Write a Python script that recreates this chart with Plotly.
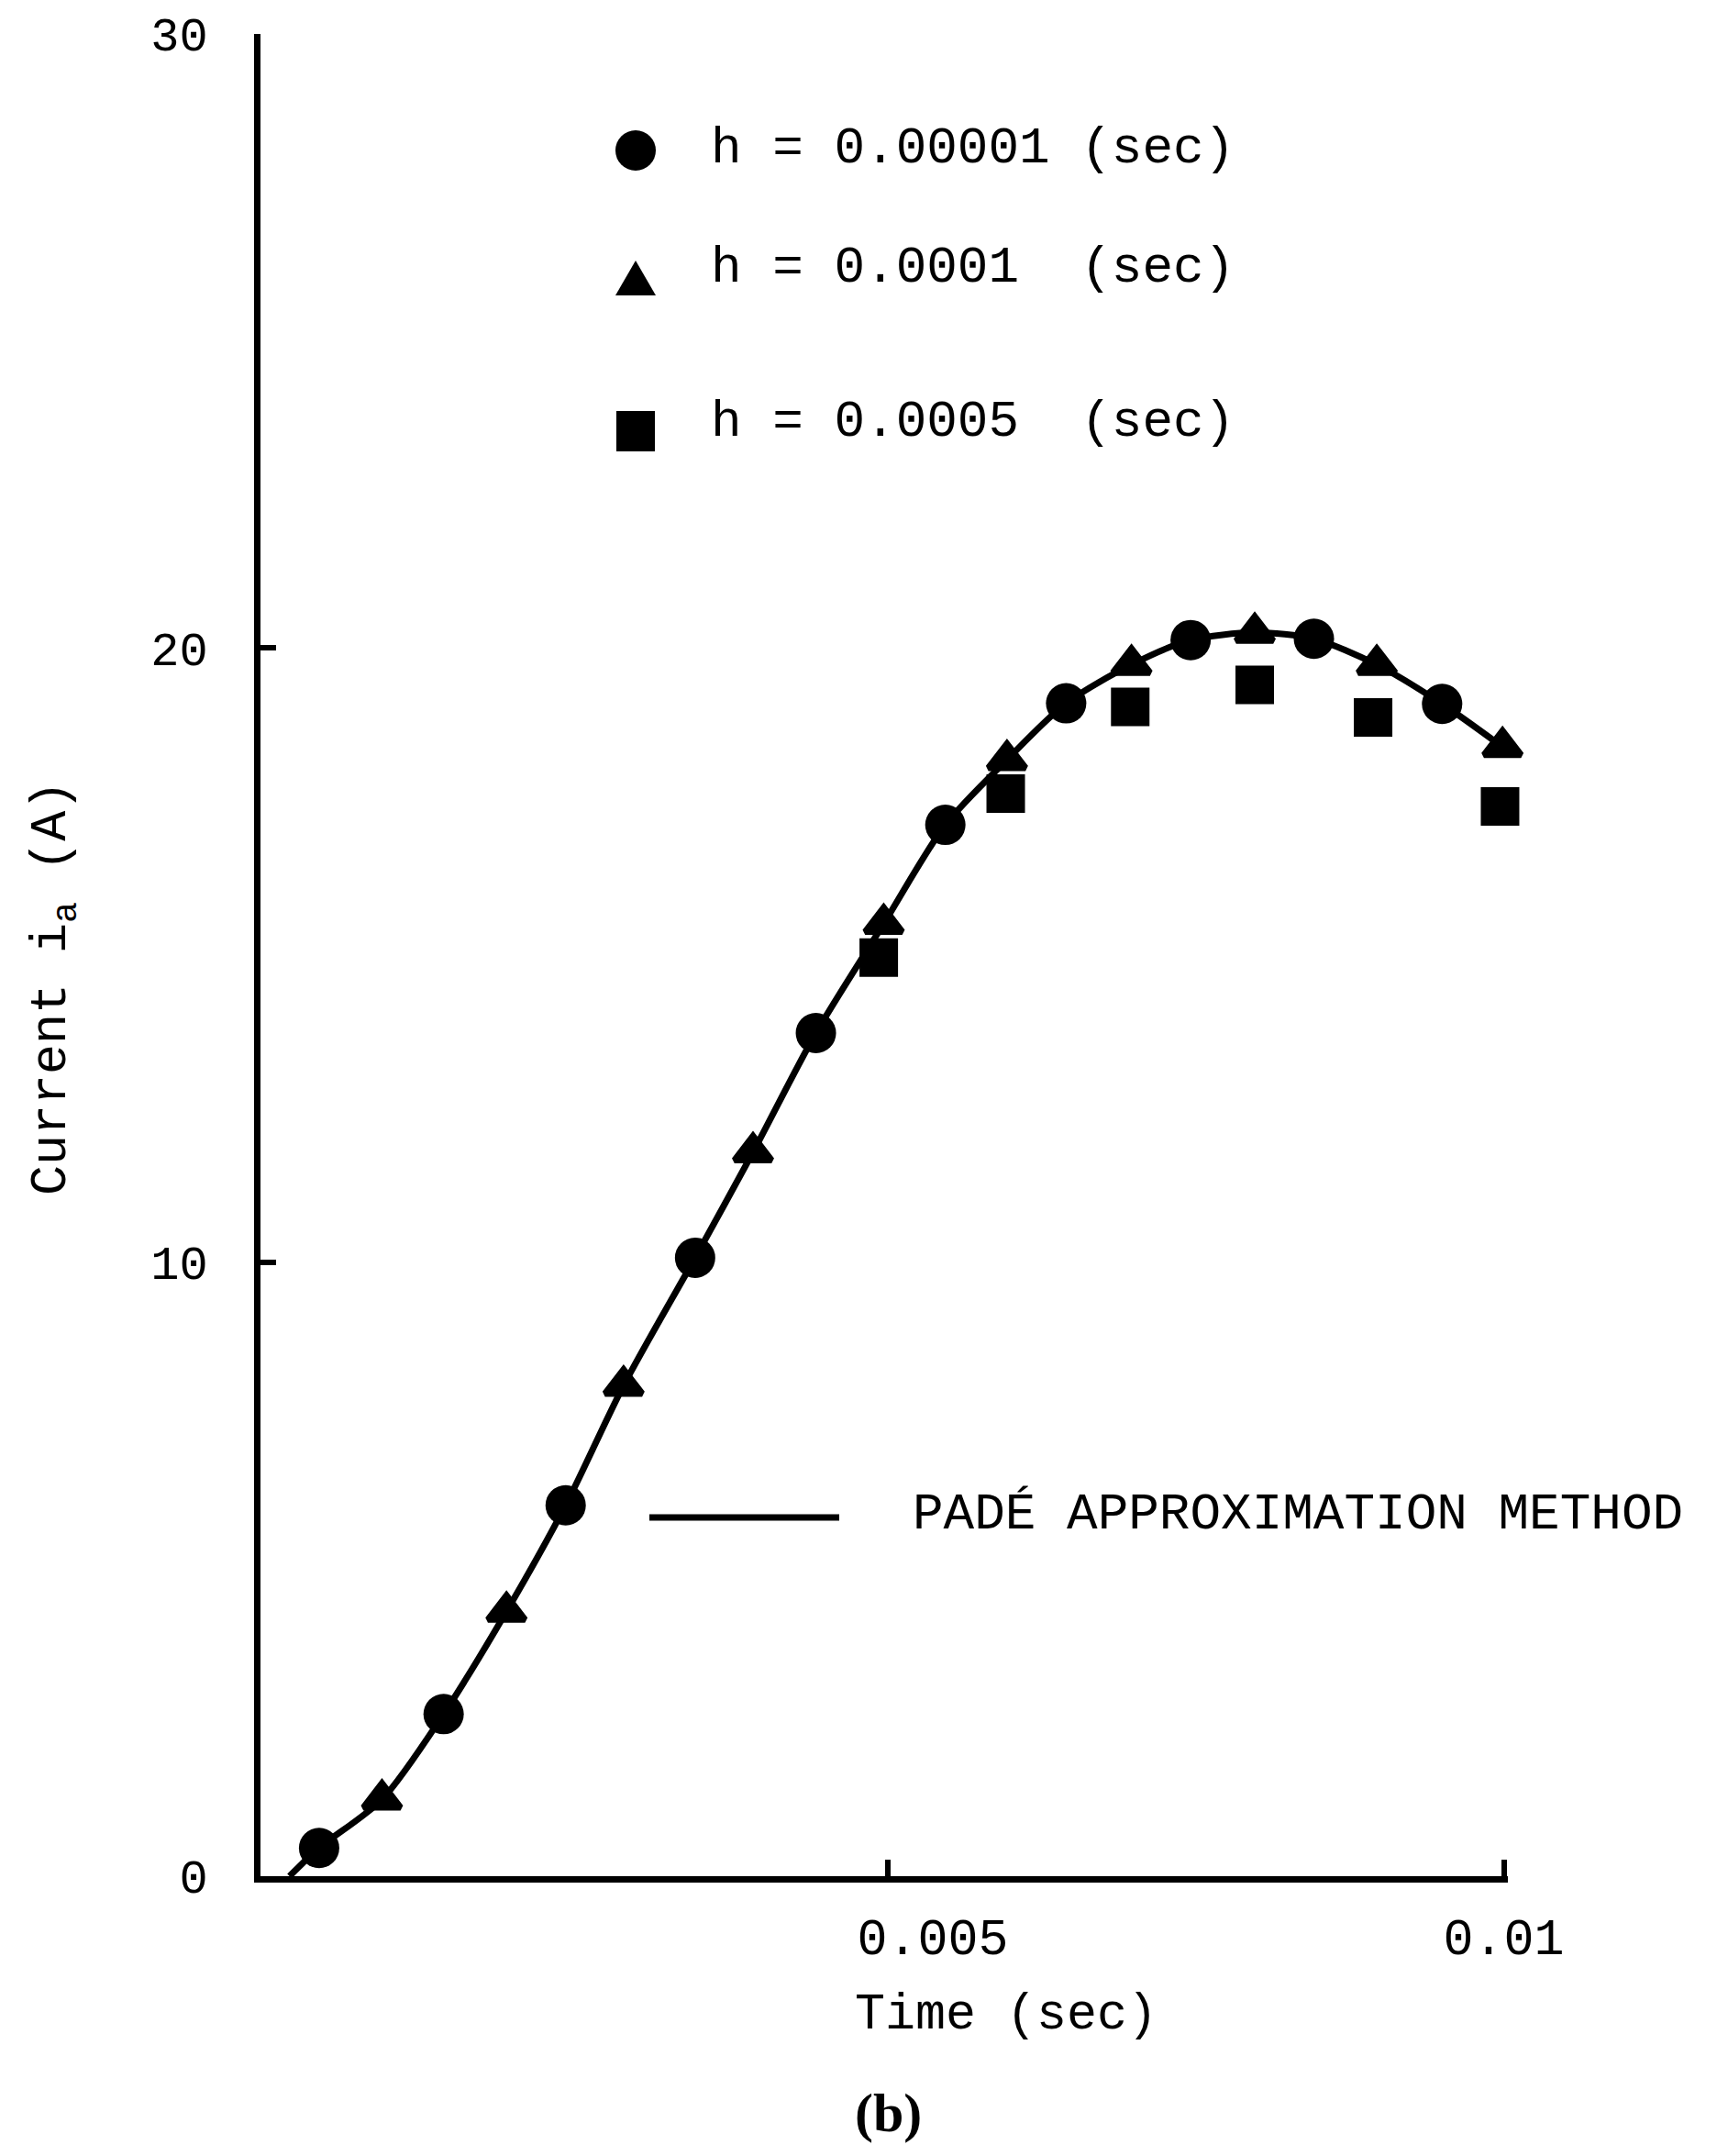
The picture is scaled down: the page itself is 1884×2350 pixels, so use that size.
import plotly.graph_objects as go

# ---------------- data ----------------
# h = 0.00001 s  (circles)
t_h1 = [0.00039, 0.00140, 0.00239, 0.00344, 0.00442, 0.00547, 0.00645, 0.00746, 0.00846, 0.00950]
i_h1 = [0.46, 2.64, 6.04, 10.07, 13.73, 17.12, 19.10, 20.13, 20.15, 19.09]

# h = 0.0001 s  (triangles)
t_h2 = [0.00090, 0.00191, 0.00286, 0.00391, 0.00497, 0.00597, 0.00698, 0.00798, 0.00897, 0.00999]
i_h2 = [1.25, 4.31, 7.99, 11.79, 15.51, 18.18, 19.73, 20.25, 19.73, 18.39]

# h = 0.0005 s  (squares)
t_h3 = [0.00493, 0.00596, 0.00697, 0.00798, 0.00894, 0.00997]
i_h3 = [14.96, 17.63, 19.04, 19.40, 18.87, 17.42]

# Pade approximation method (solid curve)
t_pade = [0.00015, 0.00039, 0.00090, 0.00140, 0.00191, 0.00239, 0.00286, 0.00344, 0.00391, 0.00442,
          0.00497, 0.00547, 0.00597, 0.00645, 0.00698, 0.00746, 0.00798, 0.00846, 0.00897, 0.00950, 0.00999]
i_pade = [0.0, 0.46, 1.25, 2.64, 4.31, 6.04, 7.99, 10.07, 11.79, 13.73,
          15.51, 17.12, 18.18, 19.10, 19.73, 20.13, 20.25, 20.15, 19.73, 19.09, 18.39]

x_tick_vals = [0.005, 0.01]
x_tick_text = ["0.005", "0.01"]
y_tick_vals = [0, 10, 20, 30]
y_tick_text = ["0", "10", "20", "30"]

series_labels = ["h = 0.00001 (sec)", "h = 0.0001  (sec)", "h = 0.0005  (sec)"]
pade_label = "PADÉ APPROXIMATION METHOD"
x_title = "Time (sec)"
y_title = "Current i<sub>a</sub> (A)"
panel_label = "(b)"

# ---------------- layout geometry (pixels) ----------------
W, H = 1884, 2350
L, R, T, B = 284, 1644, 37, 2045
PW, PH = R - L, B - T
MONO = "Liberation Mono, Courier New, monospace"
BLACK = "black"


def fx(px):
    return (px - L) / PW


def fy(py):
    return (B - py) / PH


x_range = [0.005 - (967.5 - L) / 134400.0, 0.01 + (R - 1639.5) / 134400.0]

fig = go.Figure()

fig.add_trace(go.Scatter(
    x=t_pade, y=i_pade, mode="lines", name=pade_label,
    line=dict(color=BLACK, width=7, shape="spline", smoothing=0.8),
    showlegend=False, cliponaxis=False))

fig.add_trace(go.Scatter(
    x=t_h1, y=i_h1, mode="markers", name=series_labels[0],
    marker=dict(symbol="circle", size=44, color=BLACK, line=dict(width=0)),
    showlegend=False, cliponaxis=False))

fig.add_trace(go.Scatter(
    x=t_h2, y=i_h2, mode="markers", name=series_labels[1],
    marker=dict(symbol="triangle-up", size=35, color=BLACK, line=dict(width=7, color=BLACK)),
    showlegend=False, cliponaxis=False))

fig.add_trace(go.Scatter(
    x=t_h3, y=i_h3, mode="markers", name=series_labels[2],
    marker=dict(symbol="square", size=42, color=BLACK, line=dict(width=0)),
    showlegend=False, cliponaxis=False))

# ---------------- legend keys (drawn as shapes) ----------------
shapes = []
shapes.append(dict(type="circle", xref="paper", yref="paper",
                   x0=fx(671), x1=fx(715), y0=fy(186), y1=fy(142),
                   fillcolor=BLACK, line=dict(width=0)))
tri = [(671, 322), (715, 322), (693, 284)]
path = "M {} {} L {} {} L {} {} Z".format(fx(tri[0][0]), fy(tri[0][1]), fx(tri[1][0]), fy(tri[1][1]),
                                          fx(tri[2][0]), fy(tri[2][1]))
shapes.append(dict(type="path", xref="paper", yref="paper", path=path,
                   fillcolor=BLACK, line=dict(width=0)))
shapes.append(dict(type="rect", xref="paper", yref="paper",
                   x0=fx(672), x1=fx(714), y0=fy(492), y1=fy(448),
                   fillcolor=BLACK, line=dict(width=0)))
shapes.append(dict(type="line", xref="paper", yref="paper",
                   x0=fx(708), x1=fx(915), y0=fy(1654), y1=fy(1654),
                   line=dict(color=BLACK, width=7)))

annotations = []
for lab, py in zip(series_labels, [162, 292, 460]):
    annotations.append(dict(text=lab.replace(" ", "\u00a0"), xref="paper", yref="paper",
                            x=fx(773), y=fy(py), xanchor="left", yanchor="middle",
                            showarrow=False, font=dict(family=MONO, size=56, color=BLACK)))
annotations.append(dict(text=pade_label, xref="paper", yref="paper",
                        x=fx(993), y=fy(1651), xanchor="left", yanchor="middle",
                        showarrow=False, font=dict(family=MONO, size=56, color=BLACK)))
annotations.append(dict(text=x_title, xref="paper", yref="paper",
                        x=fx(930), y=fy(2196), xanchor="left", yanchor="middle",
                        showarrow=False, font=dict(family=MONO, size=55, color=BLACK)))
annotations.append(dict(text=y_title, xref="paper", yref="paper",
                        x=fx(60), y=fy(1077), xanchor="center", yanchor="middle",
                        textangle=-90, showarrow=False,
                        font=dict(family=MONO, size=55, color=BLACK)))
annotations.append(dict(text="<b>" + panel_label + "</b>", xref="paper", yref="paper",
                        x=fx(968), y=fy(2303), xanchor="center", yanchor="middle",
                        showarrow=False,
                        font=dict(family="Liberation Serif, Times New Roman, serif", size=60, color=BLACK)))

fig.update_layout(
    width=W, height=H,
    margin=dict(l=L, r=W - R, t=T, b=H - B, pad=0),
    paper_bgcolor="white", plot_bgcolor="white",
    showlegend=False,
    shapes=shapes, annotations=annotations,
    xaxis=dict(range=x_range, showgrid=False, zeroline=False,
               showline=True, linecolor=BLACK, linewidth=7,
               ticks="inside", ticklen=18, tickwidth=6, tickcolor=BLACK,
               tickmode="array", tickvals=x_tick_vals,
               ticktext=["\u00a0\u00a0\u00a0" + x_tick_text[0], x_tick_text[1]],
               ticklabelstandoff=12,
               tickfont=dict(family=MONO, size=55, color=BLACK)),
    yaxis=dict(range=[0, 30], showgrid=False, zeroline=False,
               showline=True, linecolor=BLACK, linewidth=7,
               ticks="inside", ticklen=17, tickwidth=6, tickcolor=BLACK,
               tickmode="array", tickvals=y_tick_vals, ticktext=y_tick_text,
               ticklabelstandoff=40,
               tickfont=dict(family=MONO, size=52, color=BLACK)),
)

fig.write_html("out.html")
